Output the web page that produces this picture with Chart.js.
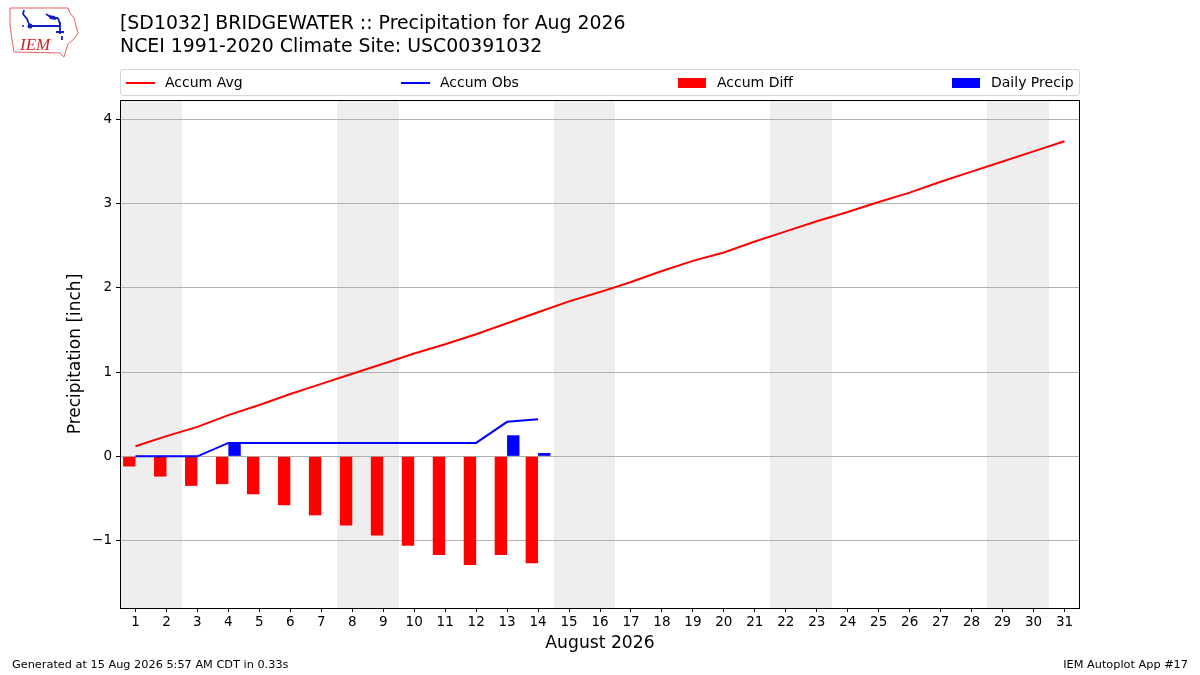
<!DOCTYPE html>
<html>
<head>
<meta charset="utf-8">
<script src="https://cdn.jsdelivr.net/npm/chart.js@4.4.1/dist/chart.umd.min.js"></script>
<style>
    body { margin: 0; background: #fff; }
    #wrap { position: relative; width: 1200px; height: 675px; font-family: "DejaVu Sans", sans-serif; color: #000; }
    #c { position: absolute; left: 0; top: 0; }
    .txt { position: absolute; white-space: nowrap; }
    #title { left: 120px; top: 11px; font-size: 18.9px; line-height: 23px; }
    #legend { position: absolute; left: 120px; top: 69px; width: 958px; height: 25px; border: 1px solid #d6d6d6; border-radius: 3px; font-size: 14px; }
    .lg { position: absolute; top: 0; height: 25px; line-height: 25px; white-space: nowrap; }
    .lg i { position: absolute; display: block; }
    .lg span { position: absolute; white-space: nowrap; }
    .foot { font-size: 11.3px; top: 658px; }
</style>
</head>
<body>
<div id="wrap">
    <canvas id="c" width="1200" height="675"></canvas>
    <svg class="txt" style="left:8px;top:6px" width="74" height="54" viewBox="0 0 74 54">
        <polygon points="2,2 60,2 62,7 66,12 68,20 70,27 66,33 60,38 58,44 56,51 52,47 6,46 4,34 2,19" fill="none" stroke="#e06060" stroke-width="1"/>
        <path d="M16,4 L15,8 L19,13 L21,18 M22,20 L52,20 M38,8 L44,12 L50,12 M50,12 L52,18 M52,16 L52,28 M48,26 L56,26 M54,30 L54,34" stroke="#1020c0" stroke-width="1.8" fill="none"/>
        <path d="M40,9 L47,10 L48,14 L42,13 Z" fill="#1020c0"/>
        <circle cx="22" cy="20" r="2.5" fill="#1020c0"/>
        <circle cx="15" cy="20" r="1" fill="#1020c0"/>
        <text x="12" y="44" font-family="Liberation Serif, serif" font-style="italic" font-size="17" fill="#d02020">IEM</text>
    </svg>
    <div id="title" class="txt">[SD1032] BRIDGEWATER :: Precipitation for Aug 2026<br>NCEI 1991-2020 Climate Site: USC00391032</div>
    <div id="legend">
        <div class="lg" style="left:5px"><i style="left:0;top:12px;width:29px;height:2px;background:#ff0000"></i><span style="left:39px">Accum Avg</span></div>
        <div class="lg" style="left:280px"><i style="left:0;top:12px;width:29px;height:2px;background:#0000ff"></i><span style="left:39px">Accum Obs</span></div>
        <div class="lg" style="left:557px"><i style="left:0;top:8px;width:28px;height:10px;background:#ff0000"></i><span style="left:39px">Accum Diff</span></div>
        <div class="lg" style="left:831px"><i style="left:0;top:8px;width:28px;height:10px;background:#0000ff"></i><span style="left:39px">Daily Precip</span></div>
    </div>
    <div class="txt foot" style="left:12px">Generated at 15 Aug 2026 5:57 AM CDT in 0.33s</div>
    <div class="txt foot" style="right:12px">IEM Autoplot App #17</div>
</div>
<script>
// day labels for Aug 2026
const dayLabels = ['1', '2', '3', '4', '5', '6', '7', '8', '9', '10', '11', '12', '13', '14', '15', '16',
    '17', '18', '19', '20', '21', '22', '23', '24', '25', '26', '27', '28', '29', '30', '31'];

// climatology accumulated precip (inch)
const accumAvg = [0.12, 0.24, 0.35, 0.49, 0.61, 0.74, 0.86, 0.98, 1.10, 1.22, 1.33, 1.45, 1.58, 1.71, 1.84, 1.95,
    2.07, 2.20, 2.32, 2.42, 2.55, 2.67, 2.79, 2.90, 3.02, 3.13, 3.26, 3.38, 3.50, 3.62, 3.74];

// observed so far (through the 14th)
const accumObs = [0, 0, 0, 0.16, 0.16, 0.16, 0.16, 0.16, 0.16, 0.16, 0.16, 0.16, 0.41, 0.44];
const accumDiff = [-0.12, -0.24, -0.35, -0.33, -0.45, -0.58, -0.70, -0.82, -0.94, -1.06, -1.17, -1.29, -1.17, -1.27];
const dailyPrecip = [0, 0, 0, 0.16, 0, 0, 0, 0, 0, 0, 0, 0, 0.25, 0.04];

// weekends (sat, sun) get shaded
const weekendStart = [1, 8, 15, 22, 29];
const weekendEnd = [2, 9, 16, 23, 30];

const yTicks = [-1, 0, 1, 2, 3, 4];

const FONT = 'DejaVu Sans';

const backdrop = {
    id: 'backdrop',
    beforeDraw(chart) {
        const { ctx, chartArea: a, scales: { x } } = chart;
        ctx.save();
        ctx.fillStyle = '#fff';
        ctx.fillRect(0, 0, chart.width, chart.height);
        ctx.fillStyle = '#eeeeee';
        weekendStart.forEach((d, i) => {
            const x0 = Math.round(x.getPixelForValue(d - 1.5));
            const x1 = Math.round(x.getPixelForValue(weekendEnd[i] - 0.5));
            ctx.fillRect(x0, a.top, x1 - x0, a.bottom - a.top);
        });
        ctx.restore();
    },
    afterDraw(chart) {
        const { ctx, chartArea: a } = chart;
        ctx.save();
        ctx.strokeStyle = '#000';
        ctx.lineWidth = 1;
        ctx.strokeRect(Math.round(a.left) + 0.5, Math.round(a.top) + 0.5,
            Math.round(a.right - a.left) - 1, Math.round(a.bottom - a.top));
        ctx.restore();
    }
};

const ctx = document.getElementById('c').getContext('2d');
const precipChart = new Chart(ctx, {
    data: {
        labels: dayLabels,
        datasets: [
            { type: 'line', label: 'Accum Avg', data: accumAvg, borderColor: '#ff0000', borderWidth: 2, pointRadius: 0, order: 0 },
            { type: 'line', label: 'Accum Obs', data: accumObs, borderColor: '#0000ff', borderWidth: 2, pointRadius: 0, order: 1 },
            { type: 'bar', label: 'Accum Diff', data: accumDiff, backgroundColor: '#ff0000', order: 2,
                barPercentage: 1.0, categoryPercentage: 0.8 },
            { type: 'bar', label: 'Daily Precip', data: dailyPrecip, backgroundColor: '#0000ff', order: 3,
                barPercentage: 1.0, categoryPercentage: 0.8 }
        ]
    },
    options: {
        responsive: false,
        animation: false,
        devicePixelRatio: 1,
        layout: { padding: { left: 0, right: 120, top: 100, bottom: 0 } },
        plugins: {
            legend: { display: false },
            tooltip: { enabled: false }
        },
        scales: {
            x: {
                type: 'category',
                offset: true,
                grid: { drawOnChartArea: false, drawTicks: true, tickLength: 4, tickColor: '#000', offset: false },
                border: { display: false },
                ticks: { color: '#000', font: { family: FONT, size: 13.5 }, padding: 2, maxRotation: 0, autoSkip: false },
                title: { display: true, text: 'August 2026', color: '#000', font: { family: FONT, size: 17.2 }, padding: { top: 0, bottom: 21 } },
                afterFit(scale) { scale.height = 67; }
            },
            y: {
                min: -1.8,
                max: 4.23,
                afterBuildTicks(scale) { scale.ticks = yTicks.map(v => ({ value: v })); },
                grid: { color: '#b0b0b0', lineWidth: 1, tickLength: 4, tickColor: '#000' },
                border: { display: false },
                ticks: {
                    color: '#000', font: { family: FONT, size: 13.5 }, padding: 4,
                    callback: v => v < 0 ? '\u2212' + Math.abs(v) : String(v)
                },
                title: { display: true, text: 'Precipitation [inch]', color: '#000', font: { family: FONT, size: 17 }, padding: { top: 65, bottom: 0 } },
                afterFit(scale) { scale.width = 120; }
            }
        }
    },
    plugins: [backdrop]
});
</script>
</body>
</html>
